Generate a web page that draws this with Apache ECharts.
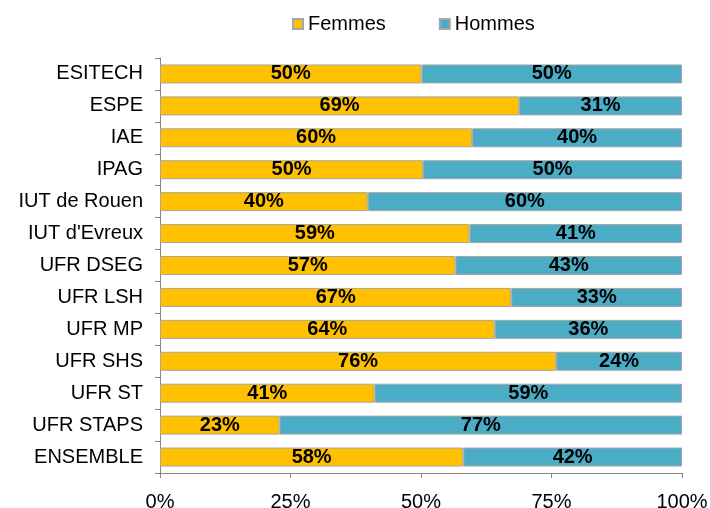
<!DOCTYPE html>
<html>
<head>
<meta charset="utf-8">
<script src="https://cdn.jsdelivr.net/npm/echarts@6/dist/echarts.min.js"></script>
<style>
  html, body { margin: 0; padding: 0; background: #fff; }
  #chart { width: 710px; height: 508px; }
</style>
</head>
<body>
<div id="chart"></div>
<script>
// catégories (de haut en bas)
var categories = ['ESITECH', 'ESPE', 'IAE', 'IPAG', 'IUT de Rouen', "IUT d'Evreux", 'UFR DSEG',
  'UFR LSH', 'UFR MP', 'UFR SHS', 'UFR ST', 'UFR STAPS', 'ENSEMBLE']
// part des femmes / hommes en %
var femmes = [50.1, 68.8, 59.8, 50.4, 39.8, 59.3, 56.6, 67.3, 64.1, 75.9, 41.1, 22.9, 58.1]
var hommes = [49.9, 31.2, 40.2, 49.6, 60.2, 40.7, 43.4, 32.7, 35.9, 24.1, 58.9, 77.1, 41.9]
var xTicks = [0, 25, 50, 75, 100]

var font = 'Arial, "Liberation Sans", sans-serif'
var axisColor = '#868686'

var label = {
  show: true,
  position: 'inside',
  color: '#000',
  fontFamily: font,
  fontSize: 20,
  fontWeight: 'bold',
  formatter: function (p) { return Math.round(p.value) + '%' }
}

var chart = echarts.init(document.getElementById('chart'))
chart.setOption({
  animation: false,
  textStyle: { fontFamily: font },
  legend: {
    top: 9,
    left: 287,
    itemWidth: 10,
    itemHeight: 10,
    itemGap: 53,
    icon: 'rect',
    textStyle: { fontSize: 20, color: '#000', fontFamily: font },
    data: ['Femmes', 'Hommes']
  },
  grid: { left: 160, right: 28, top: 58, bottom: 35, containLabel: false, outerBoundsMode: 'none' },
  xAxis: {
    type: 'value',
    min: 0,
    max: 100,
    interval: 25,
    splitLine: { show: false },
    axisLine: { show: true, lineStyle: { color: axisColor } },
    axisTick: { show: true, length: 5, lineStyle: { color: axisColor } },
    axisLabel: {
      margin: 19, fontSize: 20, color: '#000',
      formatter: function (v) { return xTicks.indexOf(v) >= 0 ? v + '%' : '' }
    }
  },
  yAxis: {
    type: 'category',
    inverse: true,
    data: categories,
    axisLine: { show: true, lineStyle: { color: axisColor } },
    axisTick: { show: true, length: 5, lineStyle: { color: axisColor } },
    axisLabel: { margin: 17, fontSize: 20, color: '#000' }
  },
  series: [
    {
      name: 'Femmes',
      type: 'bar',
      stack: 'total',
      barWidth: 19,
      data: femmes,
      label: label,
      itemStyle: { color: '#FFC000', borderColor: '#A6A6A6', borderWidth: 1 }
    },
    {
      name: 'Hommes',
      type: 'bar',
      stack: 'total',
      barWidth: 19,
      data: hommes,
      label: label,
      itemStyle: { color: '#4BACC6', borderColor: '#A6A6A6', borderWidth: 1 }
    }
  ]
})
</script>
</body>
</html>
